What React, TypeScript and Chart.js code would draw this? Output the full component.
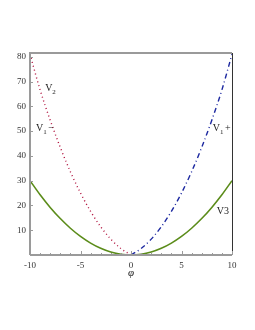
import React, { useEffect, useRef } from "react";
import { Chart, registerables } from "chart.js";
Chart.register(...registerables);

const phiLeft = [-10, -9, -8, -7, -6, -5, -4, -3, -2, -1, 0];
const phiRight = [0, 1, 2, 3, 4, 5, 6, 7, 8, 9, 10];
const phiAll = [-10, -9, -8, -7, -6, -5, -4, -3, -2, -1, 0, 1, 2, 3, 4, 5, 6, 7, 8, 9, 10];
const v2Values = [81, 66.6, 54.4, 43.4, 33.6, 25, 17.6, 11.4, 6.4, 2.6, 0];
const v1PlusValues = [0, 2.6, 6.4, 11.4, 17.6, 25, 33.6, 43.4, 54.4, 66.6, 81];
const v3Values = [30, 24.3, 19.2, 14.7, 10.8, 7.5, 4.8, 2.7, 1.2, 0.3, 0, 0.3, 1.2, 2.7, 4.8, 7.5, 10.8, 14.7, 19.2, 24.3, 30];
const xTicks = [-10, -5, 0, 5, 10];
const yTicks = [10, 20, 30, 40, 50, 60, 70, 80];
// annotation labels: [main, subscript, suffix, phi, value]
const curveLabels: [string, string, string, number, number][] = [
  ["V", "2", "", -8.5, 66],
  ["V", "1", "\u2212", -9.4, 50],
  ["V", "1", "+", 8.1, 50],
  ["V3", "", "", 8.5, 16.5],
];
const xTitle = "\u03c6";

const SERIF = "'Liberation Serif', 'DejaVu Serif', serif";

export default function App() {
  const ref = useRef<HTMLCanvasElement | null>(null);
  useEffect(() => {
    if (!ref.current) return;
    const deco = {
      id: "deco",
      afterDatasetsDraw(chart: any) {
        const { ctx, chartArea: a, scales } = chart;
        const xs = scales.x, ys = scales.y;
        ctx.save();
        // frame
        ctx.strokeStyle = "#9a9a9a";
        ctx.lineWidth = 2;
        ctx.beginPath();
        ctx.moveTo(a.left, a.bottom);
        ctx.lineTo(a.left, a.top);
        ctx.lineTo(a.right, a.top);
        ctx.moveTo(a.left, a.bottom);
        ctx.lineTo(a.right, a.bottom);
        ctx.stroke();
        ctx.strokeStyle = "#333";
        ctx.lineWidth = 1;
        ctx.beginPath();
        ctx.moveTo(a.right + 0.5, a.top);
        ctx.lineTo(a.right + 0.5, a.bottom);
        ctx.stroke();
        // ticks
        ctx.strokeStyle = "#9a9a9a";
        ctx.lineWidth = 1;
        ctx.beginPath();
        for (let v = -10; v <= 10; v++) {
          const px = Math.round(xs.getPixelForValue(v)) + 0.5;
          const len = v % 5 === 0 ? 4 : 2;
          ctx.moveTo(px, a.bottom);
          ctx.lineTo(px, a.bottom - len);
        }
        for (const v of yTicks) {
          const py = Math.round(ys.getPixelForValue(v)) + 0.5;
          ctx.moveTo(a.left, py);
          ctx.lineTo(a.left + 3, py);
        }
        ctx.stroke();
        // tick labels
        ctx.fillStyle = "#333";
        ctx.font = "9px " + SERIF;
        ctx.textAlign = "center";
        ctx.textBaseline = "top";
        for (const v of xTicks) {
          ctx.fillText(String(v), xs.getPixelForValue(v), a.bottom + 6);
        }
        ctx.textAlign = "right";
        ctx.textBaseline = "middle";
        for (const v of yTicks) {
          ctx.fillText(String(v), a.left - 4, ys.getPixelForValue(v));
        }
        // axis title
        ctx.fillStyle = "#222";
        ctx.font = "italic 11px " + SERIF;
        ctx.textAlign = "center";
        ctx.textBaseline = "middle";
        ctx.fillText(xTitle, xs.getPixelForValue(0), a.bottom + 18);
        // curve labels
        ctx.textAlign = "left";
        ctx.textBaseline = "alphabetic";
        for (const [main, sub, suf, px, py] of curveLabels) {
          let x = xs.getPixelForValue(px);
          const y = ys.getPixelForValue(py);
          ctx.font = "10px " + SERIF;
          ctx.fillText(main, x, y);
          x += ctx.measureText(main).width;
          if (sub) {
            ctx.font = "7px " + SERIF;
            ctx.fillText(sub, x, y + 3);
            x += ctx.measureText(sub).width + 1.5;
          }
          if (suf) {
            ctx.font = "10px " + SERIF;
            ctx.fillText(suf, x, y);
          }
        }
        ctx.restore();
      },
    };
    const chart = new Chart(ref.current, {
      type: "line",
      data: {
        datasets: [
          {
            data: phiAll.map((x, i) => ({ x, y: v3Values[i] })),
            borderColor: "#5b8c1a",
            borderWidth: 1.6,
            pointRadius: 0,
            cubicInterpolationMode: "monotone",
          },
          {
            data: phiLeft.map((x, i) => ({ x, y: v2Values[i] })),
            borderColor: "#b0103c",
            borderWidth: 1.4,
            borderDash: [1, 3],
            pointRadius: 0,
            cubicInterpolationMode: "monotone",
          },
          {
            data: phiRight.map((x, i) => ({ x, y: v1PlusValues[i] })),
            borderColor: "#1c28a0",
            borderWidth: 1.4,
            borderDash: [5, 3, 1, 3],
            pointRadius: 0,
            cubicInterpolationMode: "monotone",
          },
        ],
      },
      options: {
        animation: false,
        responsive: false,
        maintainAspectRatio: false,
        layout: { padding: { left: 0, top: 53, right: 23, bottom: 0 } },
        plugins: { legend: { display: false }, tooltip: { enabled: false } },
        scales: {
          x: {
            type: "linear",
            min: -10,
            max: 10,
            grid: { display: false },
            border: { display: false },
            ticks: { display: false },
            afterFit: (s: any) => { s.height = 75; },
          },
          y: {
            min: 0,
            max: 81.5,
            grid: { display: false },
            border: { display: false },
            ticks: { display: false },
            afterFit: (s: any) => { s.width = 30; },
          },
        },
      },
      plugins: [deco],
    } as any);
    return () => chart.destroy();
  }, []);
  return (
    <div style={{ position: "fixed", left: 0, top: 0, width: 255, height: 330, background: "#fff" }}>
      <canvas ref={ref} width={255} height={330} />
    </div>
  );
}
